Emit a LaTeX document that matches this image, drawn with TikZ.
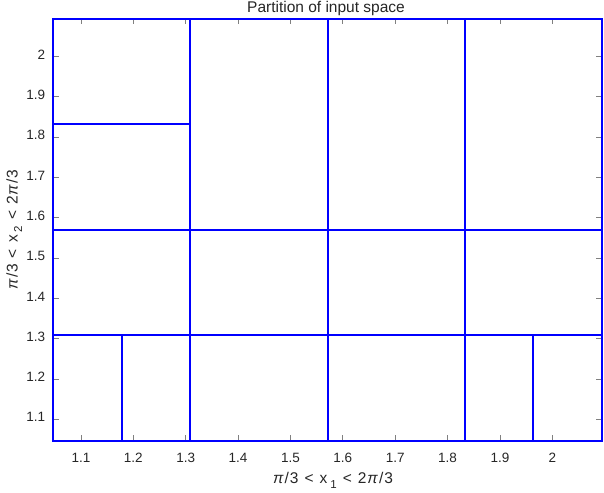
\documentclass[tikz,border=0pt]{standalone}
\usepackage{fontspec}
\setmainfont{Liberation Sans}
\newcommand{\mypi}{\textit{π}}
\newcommand{\axlab}[1]{\mypi\kern1pt/\kern1pt3\hspace{6pt}<\hspace{6pt}x\hspace{3pt}\raisebox{-4.5pt}{\fontsize{11.5}{13}\selectfont #1}\hspace{6pt}<\hspace{6pt}2\kern1pt\mypi\kern1pt/\kern1pt3}
\begin{document}
\begin{tikzpicture}[x=1pt,y=1pt,
  lbl/.style={text=black!85, font=\fontsize{13.5}{16}\selectfont, inner sep=0pt},
  axl/.style={text=black!85, font=\fontsize{15.5}{18}\selectfont, inner sep=0pt},
  part/.style={draw=blue, line width=2pt},
  tk/.style={draw=black!50, line width=0.8pt}]
\useasboundingbox (0,0) rectangle (604,492);
\begin{scope}[x=523.7pt,y=403pt,shift={(-495.1pt,-370.6pt)}]
  \coordinate (ll) at (1.0472,1.0472);
  \coordinate (ur) at (2.0944,2.0944);
  % ticks and tick labels
  \foreach \t/\l in {1.1/1.1,1.2/1.2,1.3/1.3,1.4/1.4,1.5/1.5,1.6/1.6,1.7/1.7,1.8/1.8,1.9/1.9,2.0/2}{
    \draw[tk] (\t,1.0472) -- ++(0,5.5pt);
    \draw[tk] (\t,2.0944) -- ++(0,-5.5pt);
    \draw[tk] (1.0472,\t) -- ++(5.5pt,0);
    \draw[tk] (2.0944,\t) -- ++(-5.5pt,0);
    \node[lbl, anchor=base] (xt\l) at ([yshift=-22pt]\t,1.0472) {\l};
    \node[lbl, anchor=mid east] (yt\l) at ([xshift=-8pt]1.0472,\t) {\l};
  }
  % partition
  \draw[part] (ll) rectangle (ur);
  \draw[part] (1.3090,1.0472) -- (1.3090,2.0944);
  \draw[part] (1.5708,1.0472) -- (1.5708,2.0944);
  \draw[part] (1.8326,1.0472) -- (1.8326,2.0944);
  \draw[part] (1.0472,1.3090) -- (2.0944,1.3090);
  \draw[part] (1.0472,1.5708) -- (2.0944,1.5708);
  \draw[part] (1.0472,1.8326) -- (1.3090,1.8326);
  \draw[part] (1.1781,1.0472) -- (1.1781,1.3090);
  \draw[part] (1.9635,1.0472) -- (1.9635,1.3090);
\end{scope}
\node[text=black!85, font=\fontsize{15.5}{18}\selectfont, inner sep=0pt, anchor=base] (title) at (326,479.5) {Partition of input space};
\node[axl, anchor=base] (xlab) at (333,8.5) {\axlab{1}};
\node[axl, anchor=base, rotate=90] (ylab) at (17.5,262.4) {\axlab{2}};
\end{tikzpicture}
\end{document}
